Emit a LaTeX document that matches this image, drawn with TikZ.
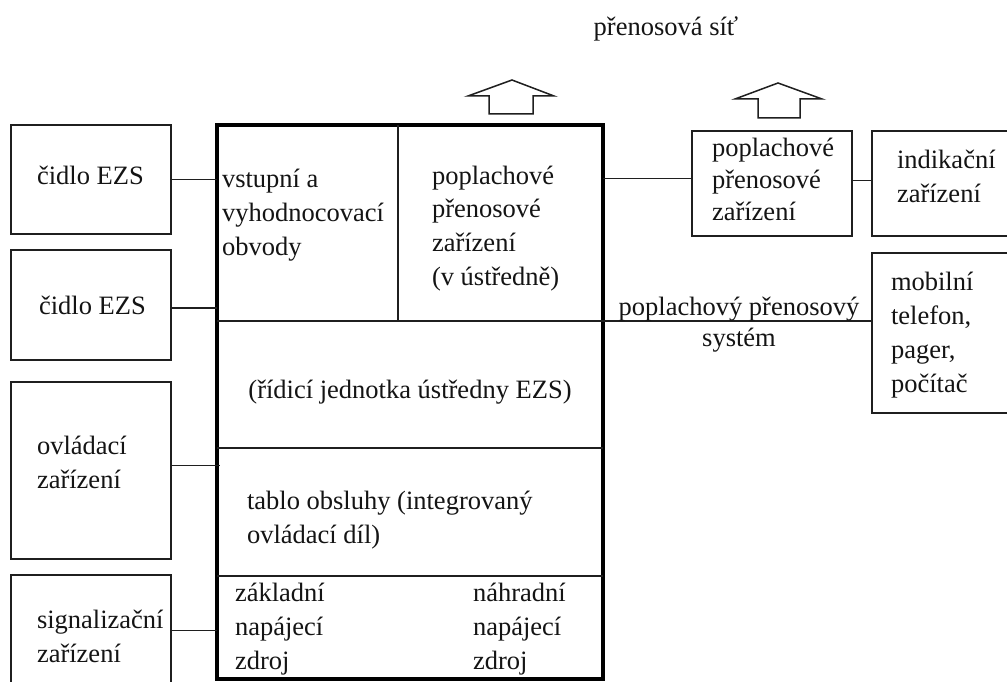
\documentclass[tikz,border=0pt]{standalone}
\usepackage{fontspec}
\setmainfont{Liberation Serif}
\usetikzlibrary{calc}
% multi-line labels: first-row baseline is the node baseline
\newcommand{\ml}[1]{\begin{tabular}[t]{@{}l@{}}#1\end{tabular}}
\newcommand{\mc}[1]{\begin{tabular}[t]{@{}c@{}}#1\end{tabular}}
\begin{document}
\begin{tikzpicture}[x=1pt,y=-1pt,
  ink/.style={draw=black!88, line width=1.5pt},
  box/.style={ink, rectangle, inner sep=0pt, outer sep=0pt},
  openbox/.style={rectangle, inner sep=0pt, outer sep=0pt},
  frame/.style={draw=black, line width=4pt, rectangle, inner sep=0pt, outer sep=0pt},
  txt/.style={anchor=base west, inner sep=0pt, outer sep=0pt,
              font=\fontsize{26.5}{34}\selectfont, text=black!92},
  ctxt/.style={txt, anchor=base},
  blockarrow/.style={ink, line join=miter, fill=white}
]
\useasboundingbox (0,0) rectangle (1007,682);
\fill[white] (0,0) rectangle (1007,682);

% left-hand devices
\node[box, minimum width=160pt, minimum height=109pt] (s1) at (91,179.5) {};
\node[box, minimum width=160pt, minimum height=110pt] (s2) at (91,305) {};
\node[box, minimum width=160pt, minimum height=177pt] (s3) at (91,470.5) {};
% the lowest device runs on below the page edge
\node[openbox, minimum width=160pt, minimum height=107pt] (s4) at (91,628.5) {};
\draw[ink] (s4.south west) -- (s4.north west) -- (s4.north east) -- (s4.south east);

% control panel
\node[frame, minimum width=386pt, minimum height=554pt] (main) at (410,402) {};
\draw[ink] (398,0 |- main.north) -- (398,321);
\draw[ink] (main.west |- 0,321) -- (main.east |- 0,321);
\draw[ink] (main.west |- 0,448) -- (main.east |- 0,448);
\draw[ink] (main.west |- 0,576) -- (main.east |- 0,576);

% right-hand devices (the two outer ones run on past the right edge)
\node[box, minimum width=160pt, minimum height=105pt] (pa) at (772,183.5) {};
\node[openbox, minimum width=135pt, minimum height=105pt] (pb) at (939.5,183.5) {};
\draw[ink] (pb.north east) -- (pb.north west) -- (pb.south west) -- (pb.south east);
\node[openbox, minimum width=135pt, minimum height=160pt] (pc) at (939.5,333) {};
\draw[ink] (pc.north east) -- (pc.north west) -- (pc.south west) -- (pc.south east);

% connectors
\draw[ink] (s1.east) -- (s1.east -| main.west);
\coordinate (c2) at ([yshift=-3pt]s2.east);
\draw[ink] (c2) -- (c2 -| main.west);
\coordinate (c3) at ([yshift=5pt]s3.east);
\draw[ink] (c3) -- ([xshift=3pt]c3 -| main.west);
\coordinate (c4) at ([yshift=-2pt]s4.east);
\draw[ink] (c4) -- (c4 -| main.west);
\coordinate (ca) at ([yshift=5pt]pa.west);
\draw[ink] (ca -| main.east) -- (ca);
\coordinate (cb) at ([yshift=3pt]pa.east);
\draw[ink] (cb) -- (cb -| pb.west);
\coordinate (cc) at ([yshift=12pt]pc.west);
\draw[ink] (cc -| main.east) -- (cc);

% outgoing transmission arrows
\draw[blockarrow] (489,114) -- (489,96) -- (468,96) -- (512,80) -- (554,96)
  -- (533,96) -- (533,114) -- cycle;
\draw[blockarrow] (758,118) -- (758,99) -- (735,99) -- (778,83) -- (822,99)
  -- (800,99) -- (800,118) -- cycle;

% labels
\node[ctxt] (net) at (666,36) {přenosová síť};
\node[txt] (t1) at (37,185) {čidlo EZS};
\node[txt] (t2) at (39,314) {čidlo EZS};
\node[txt] (t3) at (37,454) {\ml{ovládací\\zařízení}};
\node[txt] (t4) at (37,628) {\ml{signalizační\\zařízení}};
\node[txt] (m1) at (222,188) {\ml{vstupní a\\vyhodnocovací\\obvody}};
\node[txt] (m2) at (432,184) {\ml{poplachové\\přenosové\\zařízení\\(v ústředně)}};
\node[ctxt] (m3) at (410,398) {(řídicí jednotka ústředny EZS)};
\node[txt] (m4) at (247,509) {\ml{tablo obsluhy (integrovaný\\ovládací díl)}};
\node[txt] (m5) at (235,601) {\ml{základní\\napájecí\\zdroj}};
\node[txt] (m6) at (473,601) {\ml{náhradní\\napájecí\\zdroj}};
\node[txt] (ta) at (712,157) {\ml{poplachové\\[-2pt]přenosové\\[-2pt]zařízení}};
\node[txt] (tb) at (897,168) {\ml{indikační\\zařízení}};
\node[txt] (tc) at (891,290) {\ml{mobilní\\telefon,\\pager,\\počítač}};
\node[ctxt] (sys) at (739,315) {\mc{poplachový přenosový\\[-3pt]systém}};
\end{tikzpicture}
\end{document}
